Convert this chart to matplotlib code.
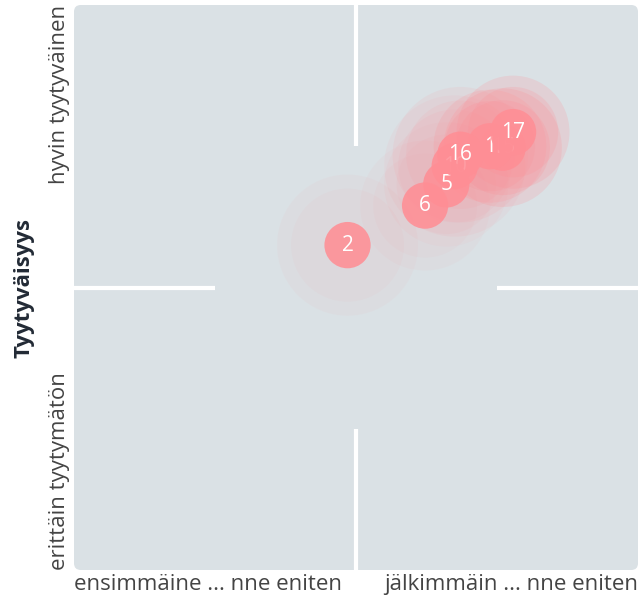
import matplotlib.pyplot as plt
from matplotlib.patches import Circle, FancyBboxPatch

plt.rcParams['font.family'] = ['Open Sans', 'DejaVu Sans']

# Vastaajat: tunnus, sijainti (x = järjestys, y = tyytyväisyys), hajonta
labels = ['2', '10', '15', '1', '5', '6', '16', '17']
x_vals = [-0.03, 0.35, 0.52, 0.475, 0.32, 0.245, 0.37, 0.557]
y_vals = [0.15, 0.43, 0.495, 0.50, 0.365, 0.29, 0.47, 0.55]
spread = [0.25, 0.25, 0.21, 0.20, 0.22, 0.23, 0.24, 0.20]
halo_alpha = [0.10, 0.15, 0.4, 0.35, 0.12, 0.10, 0.2, 0.4]

x_ticks = ['ensimmäine ... nne eniten', 'jälkimmäin ... nne eniten']
y_ticks = ['erittäin tyytymätön', 'hyvin tyytyväinen']

bg = '#dae1e5'
pink = '#ff8e95'

fig = plt.figure(figsize=(6.4, 5.98), dpi=100)
ax = fig.add_axes([74 / 640, 28 / 598, 564 / 640, 565 / 598])
ax.set_xlim(-1, 1)
ax.set_ylim(-1, 1)
ax.set_facecolor('none')
for s in ax.spines.values():
    s.set_visible(False)

# taustalaatikko pyöristetyin kulmin
ax.add_patch(FancyBboxPatch((0, 0), 1, 1, boxstyle='round,pad=0,rounding_size=0.012',
                            transform=ax.transAxes, facecolor=bg, edgecolor='none', zorder=0))

# valkoiset apuviivat reunoilta neljännekseen
ax.plot([0, 0], [0.5, 1], color='white', lw=3, zorder=1, solid_capstyle='butt')
ax.plot([0, 0], [-1, -0.5], color='white', lw=3, zorder=1, solid_capstyle='butt')
ax.plot([-1, -0.5], [0, 0], color='white', lw=3, zorder=1, solid_capstyle='butt')
ax.plot([0.5, 1], [0, 0], color='white', lw=3, zorder=1, solid_capstyle='butt')

# hajontaympyrät: kaksi kerrosta, reunat himmeämmät
for x, y, r, a in zip(x_vals, y_vals, spread, halo_alpha):
    ax.add_patch(Circle((x, y), r, facecolor=pink, alpha=a * 0.5, edgecolor='none', zorder=2))
    ax.add_patch(Circle((x, y), r * 0.8, facecolor=pink, alpha=a * 0.5, edgecolor='none', zorder=2))

for i, (x, y, lab) in enumerate(zip(x_vals, y_vals, labels)):
    z = 3 + i
    ax.add_patch(Circle((x, y), 0.082, facecolor=pink, alpha=0.88, edgecolor='none', zorder=z))
    ax.text(x, y, lab, ha='center', va='center', color='white', fontsize=15, zorder=z)

ax.set_xticks([-1, 1])
ax.set_xticklabels(x_ticks, fontsize=16, color='#444444')
xl = ax.get_xticklabels()
xl[0].set_ha('left')
xl[1].set_ha('right')
ax.set_yticks([-1, 1])
ax.set_yticklabels(y_ticks, fontsize=16, color='#444444', rotation=90)
yl = ax.get_yticklabels()
yl[0].set_va('bottom')
yl[1].set_va('top')
ax.tick_params(length=0, pad=3)
ax.set_ylabel('Tyytyväisyys', fontsize=16, fontweight='bold', color='#222a35', labelpad=10)

fig.savefig('out.png', dpi=100)
